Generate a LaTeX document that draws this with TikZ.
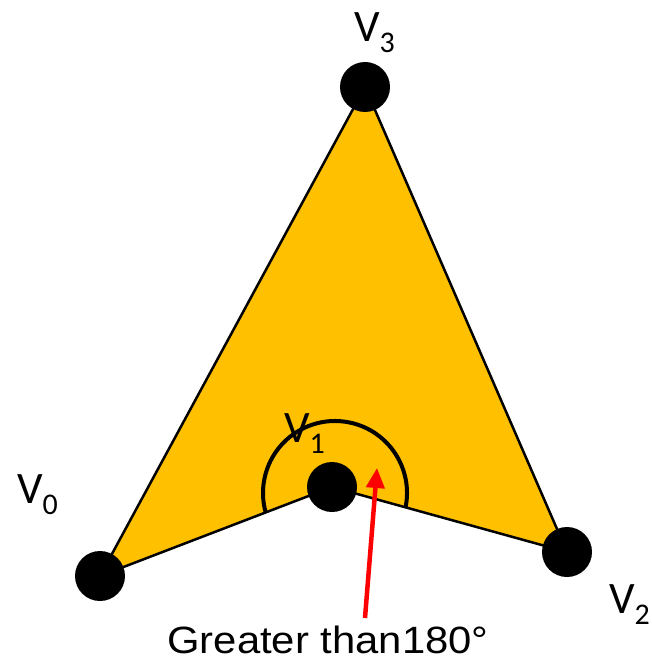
\documentclass[tikz,border=0pt]{standalone}
\usepackage{fontspec}
\setmainfont{Carlito}
\newfontfamily\notefont[FakeStretch=1.1]{Liberation Sans}
\usepackage{tikz}
\usetikzlibrary{arrows.meta,positioning}

\definecolor{polyfill}{HTML}{FFC000}
\newcommand{\vlab}[1]{V\raisebox{-11pt}{\fontsize{30}{30}\selectfont #1}}

\begin{document}
\begin{tikzpicture}[
  x=1pt, y=-1pt,
  vdot/.style={circle, fill=black, inner sep=0pt, minimum size=50pt},
  vlabel/.style={anchor=base west, inner sep=0pt, font=\fontsize{45}{45}\selectfont},
  redarrow/.style={-{Triangle[length=20pt, width=18pt]}, red, line width=4.5pt},
]
\useasboundingbox (0,0) rectangle (652,663);

%% ---- Vertices ----
\coordinate (v0) at (100,576);
\coordinate (v1) at (332,487);
\coordinate (v2) at (567,552);
\coordinate (v3) at (365,87);

%% ---- Polygon ----
\fill[polyfill] (v0) -- (v3) -- (v2) -- (v1) -- cycle;
\draw[line width=2.5pt] (v0) -- (v3) -- (v2) -- (v1) -- cycle;
\foreach \v in {0,1,2,3} \node[vdot] (d\v) at (v\v) {};

%% ---- Reflex angle at V1 ----
\draw[line width=4pt] ([shift={(12:72)}]335,493) arc[start angle=12, end angle=-196, radius=72];

%% ---- Labels ----
\node[vlabel] (l3) at (354,42)  {\vlab{3}};
\node[vlabel] (l0) at (17,503)  {\vlab{0}};
\node[vlabel] (l1) at (284,442) {\vlab{1}};
\node[vlabel] (l2) at (609,613) {\vlab{2}};

%% ---- Note ----
\node[font=\notefont\fontsize{38}{38}\selectfont, inner sep=0pt, anchor=base] (note) at (328,653) {Greater than180°};
\coordinate (tail) at (365,618);
\coordinate (tip) at (377,468);
\draw[redarrow] (tail) -- (tip);

\end{tikzpicture}
\end{document}
